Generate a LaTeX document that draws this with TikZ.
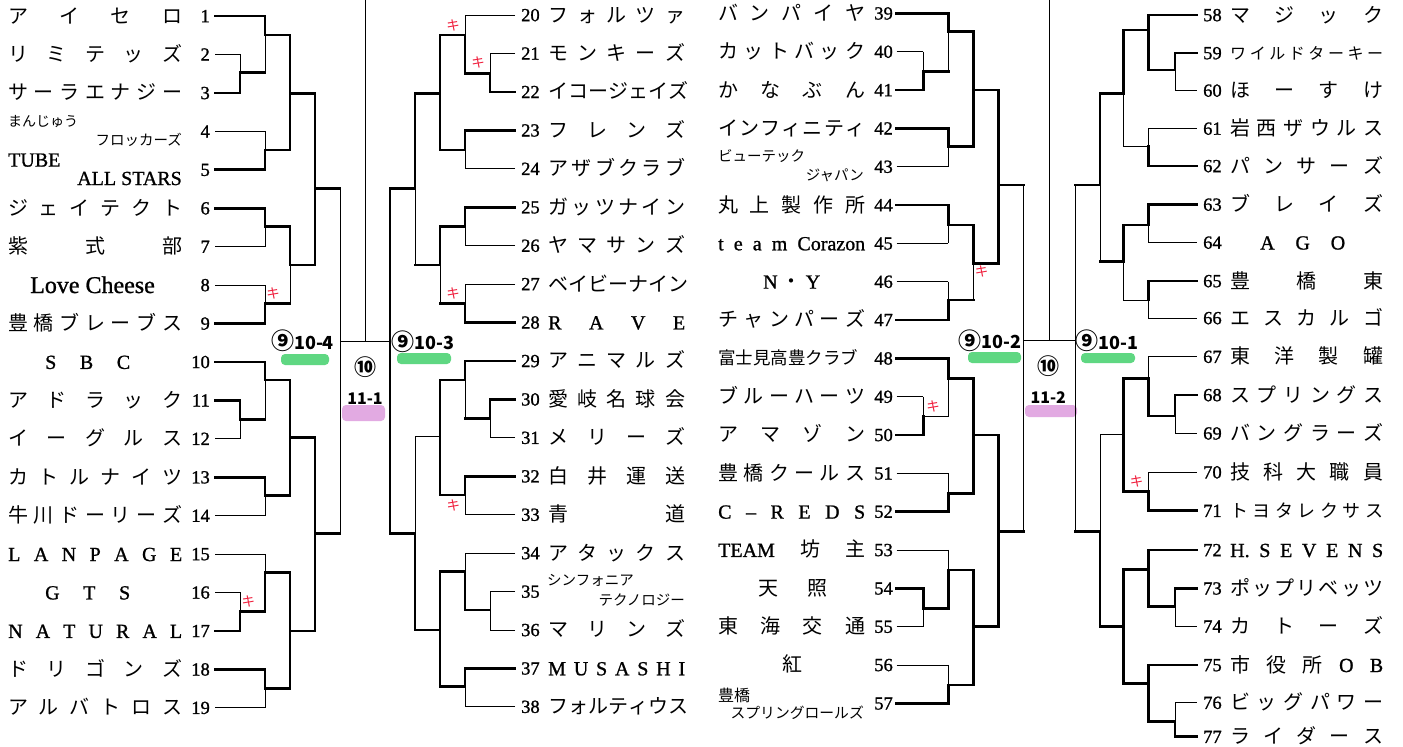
\documentclass[tikz,border=0pt]{standalone}
\usepackage{fontspec}
\setmainfont{Noto Sans CJK JP}
\newfontfamily\lat[FakeBold=1]{Liberation Serif}
\newfontfamily\latn[FakeBold=1.2]{Liberation Serif}
\newfontfamily\jpf{Noto Sans CJK JP}
\definecolor{grn}{RGB}{95,215,130}
\definecolor{pnk}{RGB}{226,170,226}
\definecolor{kired}{RGB}{240,30,60}
\def\sprdA#1{#1\sprdB}
\def\sprdB#1{\ifx\relax#1\else\hfill#1\expandafter\sprdB\fi}
\newcommand\SP[2]{\makebox[#1pt][s]{\sprdA#2\relax}}
\newcommand\armx[4]{\draw[#4] (#1,#3) -- (#2,#3);}
\newcommand\vbar[6]{\draw[#5] (#1,#2) -- (#1,#3); \draw[#6] (#1,#3) -- (#1,#4);}
\newcommand\NN[6]{\node[#1,anchor=base west] (nm#2) at (#3,{#4+7}) {\SP{#5}{#6}};}
\newcommand\cnine{\raisebox{-0.5pt}{\fontsize{23}{23}\selectfont ⑨}}
\begin{document}
\begin{tikzpicture}[x=1pt,y=-1pt,
 tk/.style={line width=2.8pt,line cap=rect},
 tn/.style={line width=0.8pt},
 tm/.style={line width=1.4pt},
 nj/.style={inner sep=0pt,font=\fontsize{20}{20}\selectfont},
 nj16/.style={inner sep=0pt,font=\fontsize{16}{16}\selectfont},
 nj18/.style={inner sep=0pt,font=\fontsize{18}{18}\selectfont},
 nl/.style={inner sep=0pt,font=\lat\fontsize{20}{20}\selectfont},
 sm/.style={inner sep=0pt,font=\fontsize{14.5}{14.5}\selectfont},
 num/.style={inner sep=0pt,font=\latn\fontsize{18.5}{18.5}\selectfont},
 lab/.style={inner sep=0pt,font=\bfseries\fontsize{18}{18}\selectfont},
 lab2/.style={inner sep=0pt,font=\bfseries\fontsize{16}{16}\selectfont},
 ki/.style={inner sep=0pt,text=kired,font=\fontsize{13.5}{13.5}\selectfont}]
\useasboundingbox (0,0) rectangle (1403,747);
\fill[white] (0,0) rectangle (1403,747);
% highlight bars
\fill[grn,rounded corners=4pt] (281,354) rectangle (329,365);
\fill[grn,rounded corners=4pt] (397,353) rectangle (451,364);
\fill[grn,rounded corners=4pt] (968,352) rectangle (1021,363);
\fill[grn,rounded corners=4pt] (1081,353) rectangle (1135,363);
\fill[pnk,rounded corners=4pt] (342,405) rectangle (385,421);
\fill[pnk,rounded corners=4pt] (1025,405) rectangle (1077,417);
% ===== left block 1-19
\armx{215}{240}{54.4}{tn} \armx{215}{240}{92.9}{tk} \vbar{240}{54.4}{72.7}{92.9}{tn}{tk}
\armx{215}{265}{16}{tk} \armx{240}{265}{72.7}{tk} \vbar{265}{16}{35}{72.7}{tk}{tn}
\armx{215}{265}{131.3}{tn} \armx{215}{265}{169.7}{tk} \vbar{265}{131.3}{150}{169.7}{tn}{tk}
\armx{265}{290}{35}{tk} \armx{265}{290}{150}{tk} \vbar{290}{35}{93.3}{150}{tk}{tk}
\armx{215}{265}{208.2}{tk} \armx{215}{265}{246.6}{tn} \vbar{265}{208.2}{226.7}{246.6}{tk}{tn}
\armx{215}{265}{285}{tn} \armx{215}{265}{323.4}{tk} \vbar{265}{285}{303.7}{323.4}{tn}{tk}
\armx{265}{290}{226.7}{tk} \armx{265}{290}{303.7}{tk} \vbar{290}{226.7}{265}{303.7}{tk}{tn}
\armx{290}{315}{93.3}{tk} \armx{290}{315}{265}{tk} \vbar{315}{93.3}{188.3}{265}{tk}{tk}
\armx{315}{340}{188.3}{tk}
\armx{215}{240}{400.3}{tk} \armx{215}{240}{438.7}{tn} \vbar{240}{400.3}{419.3}{438.7}{tk}{tn}
\armx{215}{265}{361.9}{tk} \armx{240}{265}{419.3}{tk} \vbar{265}{361.9}{380}{419.3}{tk}{tn}
\armx{215}{265}{477.2}{tk} \armx{215}{265}{515.6}{tn} \vbar{265}{477.2}{495.7}{515.6}{tk}{tn}
\armx{265}{290}{380}{tk} \armx{265}{290}{495.7}{tk} \vbar{290}{380}{437.7}{495.7}{tk}{tk}
\armx{215}{240}{592.4}{tn} \armx{215}{240}{630.9}{tk} \vbar{240}{592.4}{611.7}{630.9}{tn}{tk}
\armx{215}{265}{554}{tn} \armx{240}{265}{611.7}{tk} \vbar{265}{554}{572.7}{611.7}{tn}{tk}
\armx{215}{265}{669.3}{tk} \armx{215}{265}{707.7}{tn} \vbar{265}{669.3}{688.3}{707.7}{tk}{tn}
\armx{265}{290}{572.7}{tk} \armx{265}{290}{688.3}{tk} \vbar{290}{572.7}{631}{688.3}{tk}{tk}
\armx{290}{315}{437.7}{tk} \armx{290}{315}{631}{tk} \vbar{315}{437.7}{533.3}{631}{tk}{tk}
\armx{315}{340}{533.3}{tk}
\vbar{340}{188.3}{341.7}{533.3}{tn}{tn}
\armx{340}{390}{341.7}{tn}
\draw[tn] (365,0) -- (365,341.7);
% ===== middle-left block 20-38
\armx{515}{490}{53.4}{tn} \armx{515}{490}{91.9}{tk} \vbar{490}{53.4}{73.3}{91.9}{tn}{tk}
\armx{515}{465}{15}{tn} \armx{490}{465}{73.3}{tk} \vbar{465}{15}{35}{73.3}{tn}{tk}
\armx{515}{465}{130.3}{tk} \armx{515}{465}{168.7}{tn} \vbar{465}{130.3}{150}{168.7}{tk}{tn}
\armx{465}{440}{35}{tk} \armx{465}{440}{150}{tk} \vbar{440}{35}{93.3}{150}{tk}{tk}
\armx{515}{465}{207.2}{tk} \armx{515}{465}{245.6}{tn} \vbar{465}{207.2}{226.7}{245.6}{tk}{tn}
\armx{515}{465}{284}{tn} \armx{515}{465}{322.4}{tk} \vbar{465}{284}{303.3}{322.4}{tn}{tk}
\armx{465}{440}{226.7}{tk} \armx{465}{440}{303.3}{tk} \vbar{440}{226.7}{265}{303.3}{tk}{tn}
\armx{440}{415}{93.3}{tk} \armx{440}{415}{265}{tk} \vbar{415}{93.3}{188.3}{265}{tk}{tn}
\armx{415}{390}{188.3}{tk}
\armx{515}{490}{399.3}{tk} \armx{515}{490}{437.7}{tn} \vbar{490}{399.3}{418.3}{437.7}{tk}{tn}
\armx{515}{465}{360.9}{tk} \armx{490}{465}{418.3}{tk} \vbar{465}{360.9}{380}{418.3}{tk}{tn}
\armx{515}{465}{476.2}{tk} \armx{515}{465}{514.6}{tn} \vbar{465}{476.2}{495}{514.6}{tk}{tn}
\armx{465}{440}{380}{tk} \armx{465}{440}{495}{tk} \vbar{440}{380}{436.7}{495}{tk}{tk}
\armx{515}{490}{591.5}{tn} \armx{515}{490}{629.9}{tn} \vbar{490}{591.5}{610}{629.9}{tn}{tn}
\armx{515}{465}{553}{tn} \armx{490}{465}{610}{tk} \vbar{465}{553}{571.7}{610}{tn}{tk}
\armx{515}{465}{668.3}{tk} \armx{515}{465}{706.7}{tn} \vbar{465}{668.3}{686.7}{706.7}{tk}{tn}
\armx{465}{440}{571.7}{tk} \armx{465}{440}{686.7}{tk} \vbar{440}{571.7}{630}{686.7}{tk}{tk}
\armx{440}{415}{436.7}{tn} \armx{440}{415}{630}{tk} \vbar{415}{436.7}{533.3}{630}{tn}{tk}
\armx{415}{390}{533.3}{tk}
\vbar{390}{188.3}{341.7}{533.3}{tm}{tm}
% ===== middle-right block 39-57
\armx{896.7}{923.3}{51.6}{tn} \armx{896.7}{923.3}{90}{tk} \vbar{923.3}{51.6}{71.7}{90}{tn}{tk}
\armx{896.7}{948.3}{13.3}{tk} \armx{923.3}{948.3}{71.7}{tk} \vbar{948.3}{13.3}{31.7}{71.7}{tk}{tn}
\armx{896.7}{948.3}{128.3}{tk} \armx{896.7}{948.3}{166.6}{tn} \vbar{948.3}{128.3}{146.7}{166.6}{tk}{tn}
\armx{948.3}{973.3}{31.7}{tk} \armx{948.3}{973.3}{146.7}{tk} \vbar{973.3}{31.7}{90}{146.7}{tk}{tk}
\armx{896.7}{948.3}{205}{tk} \armx{896.7}{948.3}{243.3}{tn} \vbar{948.3}{205}{225}{243.3}{tk}{tn}
\armx{896.7}{948.3}{281.6}{tn} \armx{896.7}{948.3}{319.9}{tk} \vbar{948.3}{281.6}{300}{319.9}{tn}{tk}
\armx{948.3}{973.3}{225}{tk} \armx{948.3}{973.3}{300}{tk} \vbar{973.3}{225}{263.3}{300}{tk}{tn}
\armx{973.3}{998.3}{90}{tk} \armx{973.3}{998.3}{263.3}{tk} \vbar{998.3}{90}{185}{263.3}{tk}{tk}
\armx{998.3}{1023.3}{185}{tk}
\armx{896.7}{923.3}{396.6}{tn} \armx{896.7}{923.3}{434.9}{tk} \vbar{923.3}{396.6}{416.7}{434.9}{tn}{tk}
\armx{896.7}{948.3}{358.3}{tk} \armx{923.3}{948.3}{416.7}{tn} \vbar{948.3}{358.3}{378.3}{416.7}{tk}{tn}
\armx{896.7}{948.3}{473.3}{tn} \armx{896.7}{948.3}{511.6}{tk} \vbar{948.3}{473.3}{493.3}{511.6}{tn}{tk}
\armx{948.3}{973.3}{378.3}{tk} \armx{948.3}{973.3}{493.3}{tk} \vbar{973.3}{378.3}{435}{493.3}{tk}{tk}
\armx{896.7}{923.3}{588.3}{tk} \armx{896.7}{923.3}{626.6}{tn} \vbar{923.3}{588.3}{608.3}{626.6}{tk}{tn}
\armx{896.7}{948.3}{549.9}{tn} \armx{923.3}{948.3}{608.3}{tk} \vbar{948.3}{549.9}{570}{608.3}{tn}{tk}
\armx{896.7}{948.3}{664.9}{tn} \armx{896.7}{948.3}{703.3}{tk} \vbar{948.3}{664.9}{685}{703.3}{tn}{tk}
\armx{948.3}{973.3}{570}{tk} \armx{948.3}{973.3}{685}{tk} \vbar{973.3}{570}{626.7}{685}{tk}{tk}
\armx{973.3}{998.3}{435}{tk} \armx{973.3}{998.3}{626.7}{tk} \vbar{998.3}{435}{531.7}{626.7}{tk}{tk}
\armx{998.3}{1023.3}{531.7}{tk}
\vbar{1023.3}{185}{340}{531.7}{tn}{tn}
\armx{1023.3}{1075}{340}{tn}
\draw[tn] (1049,0) -- (1049,340);
% ===== right block 58-77
\armx{1196.7}{1175}{53}{tk} \armx{1196.7}{1175}{90.5}{tn} \vbar{1175}{53}{70}{90.5}{tk}{tn}
\armx{1196.7}{1148.3}{15}{tk} \armx{1175}{1148.3}{70}{tk} \vbar{1148.3}{15}{30}{70}{tk}{tk}
\armx{1196.7}{1148.3}{128.5}{tn} \armx{1196.7}{1148.3}{166}{tk} \vbar{1148.3}{128.5}{146.7}{166}{tn}{tk}
\armx{1148.3}{1123.3}{30}{tk} \armx{1148.3}{1123.3}{146.7}{tn} \vbar{1123.3}{30}{93.3}{146.7}{tk}{tn}
\armx{1196.7}{1148.3}{204.5}{tk} \armx{1196.7}{1148.3}{242.5}{tn} \vbar{1148.3}{204.5}{225}{242.5}{tk}{tn}
\armx{1196.7}{1148.3}{281}{tk} \armx{1196.7}{1148.3}{318}{tn} \vbar{1148.3}{281}{300}{318}{tk}{tn}
\armx{1148.3}{1123.3}{225}{tk} \armx{1148.3}{1123.3}{300}{tn} \vbar{1123.3}{225}{261.7}{300}{tk}{tn}
\armx{1123.3}{1100}{93.3}{tk} \armx{1123.3}{1100}{261.7}{tk} \vbar{1100}{93.3}{185}{261.7}{tk}{tn}
\armx{1100}{1075}{185}{tk}
\armx{1196.7}{1175}{395}{tk} \armx{1196.7}{1175}{433.3}{tn} \vbar{1175}{395}{416}{433.3}{tk}{tn}
\armx{1196.7}{1148.3}{356.7}{tn} \armx{1175}{1148.3}{416}{tk} \vbar{1148.3}{356.7}{378.3}{416}{tn}{tk}
\armx{1196.7}{1148.3}{472.2}{tn} \armx{1196.7}{1148.3}{510.7}{tk} \vbar{1148.3}{472.2}{491.7}{510.7}{tn}{tk}
\armx{1148.3}{1123.3}{378.3}{tk} \armx{1148.3}{1123.3}{491.7}{tk} \vbar{1123.3}{378.3}{434.3}{491.7}{tk}{tk}
\armx{1196.7}{1175}{588.3}{tk} \armx{1196.7}{1175}{626.3}{tn} \vbar{1175}{588.3}{606.7}{626.3}{tk}{tn}
\armx{1196.7}{1148.3}{550}{tk} \armx{1175}{1148.3}{606.7}{tk} \vbar{1148.3}{550}{569.3}{606.7}{tk}{tk}
\armx{1196.7}{1175}{702.7}{tn} \armx{1196.7}{1175}{736.7}{tk} \vbar{1175}{702.7}{721.7}{736.7}{tn}{tk}
\armx{1196.7}{1148.3}{665}{tk} \armx{1175}{1148.3}{721.7}{tk} \vbar{1148.3}{665}{683.3}{721.7}{tk}{tk}
\armx{1148.3}{1123.3}{569.3}{tk} \armx{1148.3}{1123.3}{683.3}{tk} \vbar{1123.3}{569.3}{626.7}{683.3}{tk}{tk}
\armx{1123.3}{1100}{434.3}{tn} \armx{1123.3}{1100}{626.7}{tk} \vbar{1100}{434.3}{531.7}{626.7}{tn}{tk}
\armx{1100}{1075}{531.7}{tk}
\vbar{1075}{185}{340}{531.7}{tn}{tn}
% ===== round labels
\node[lab] (l104) at (302.5,341) {\cnine 10-4};
\node[lab] (l103) at (423,341.5) {\cnine 10-3};
\node[lab] (l102) at (990,340.5) {\cnine 10-2};
\node[lab] (l101) at (1106.7,341) {\cnine 10-1};
\node[lab2,font=\bfseries\fontsize{22}{22}\selectfont] (c10a) at (365,366.7) {⑩};
\node[lab2] (f111) at (365,398.3) {11-1};
\node[lab2,font=\bfseries\fontsize{22}{22}\selectfont] (c10b) at (1048.3,366) {⑩};
\node[lab2] (f112) at (1048.3,397.3) {11-2};
% ===== kiken marks
\node[ki] (k1) at (273,293) {キ};
\node[ki] (k2) at (248.3,601.7) {キ};
\node[ki] (k3) at (453,25) {キ};
\node[ki] (k4) at (478,62) {キ};
\node[ki] (k5) at (453,293) {キ};
\node[ki] (k6) at (453.3,505) {キ};
\node[ki] (k7) at (981.7,271.7) {キ};
\node[ki] (k8) at (933,406.7) {キ};
\node[ki] (k9) at (1136.7,481.7) {キ};
% ===== numbers
\foreach \i/\y in {1/16,2/54.4,3/92.9,4/131.3,5/169.7,6/208.2,7/246.6,8/285,9/323.4,10/361.9,11/400.3,12/438.7,13/477.2,14/515.6,15/554,16/592.4,17/630.9,18/669.3,19/707.7}
  \node[num,anchor=base east] (n\i) at (210,{\y+6.2}) {\i};
\foreach \i/\y in {20/15,21/53.4,22/91.9,23/130.3,24/168.7,25/207.2,26/245.6,27/284,28/322.4,29/360.9,30/399.3,31/437.7,32/476.2,33/514.6,34/553,35/591.5,36/629.9,37/668.3,38/706.7}
  \node[num,anchor=base west] (n\i) at (521,{\y+6.2}) {\i};
\foreach \i/\y in {39/13.3,40/51.6,41/90,42/128.3,43/166.6,44/205,45/243.3,46/281.6,47/319.9,48/358.3,49/396.6,50/434.9,51/473.3,52/511.6,53/549.9,54/588.3,55/626.6,56/664.9,57/703.3}
  \node[num,anchor=base east] (n\i) at (893,{\y+6.2}) {\i};
\foreach \i/\y in {58/15,59/53,60/90.5,61/128.5,62/166,63/204.5,64/242.5,65/281,66/318,67/356.7,68/395,69/433.3,70/472.2,71/510.7,72/550,73/588.3,74/626.3,75/665,76/702.7,77/736.7}
  \node[num,anchor=base west] (n\i) at (1203,{\y+6.2}) {\i};
% ===== names, left block
\NN{nj}{1}{8}{16}{174}{アイセロ}
\NN{nj}{2}{8}{54.4}{174}{リミテッズ}
\NN{nj}{3}{8}{92.9}{174}{サーラエナジー}
\node[inner sep=0pt,font=\fontsize{14}{14}\selectfont,anchor=base west] (nm4a) at (8,126.7) {まんじゅう};
\node[inner sep=0pt,font=\fontsize{14.5}{14.5}\selectfont,anchor=base east] (nm4b) at (182,145.5) {フロッカーズ};
\node[nl,anchor=base west] (nm5a) at (8,166.6) {TUBE};
\node[nl,anchor=base east] (nm5b) at (182,185) {ALL STARS};
\NN{nj}{6}{8}{208.2}{174}{ジェイテクト}
\NN{nj}{7}{8}{246.6}{174}{紫式部}
\node[inner sep=0pt,font=\lat\fontsize{24}{24}\selectfont,anchor=base west] (nm8) at (30,293) {Love Cheese};
\NN{nj}{9}{8}{323.4}{174}{豊橋ブレーブス}
\NN{nl}{10}{45}{361.9}{85}{SBC}
\NN{nj}{11}{8}{400.3}{174}{アドラック}
\NN{nj}{12}{8}{438.7}{174}{イーグルス}
\NN{nj}{13}{8}{477.2}{174}{カトルナイツ}
\NN{nj}{14}{8}{515.6}{174}{牛川ドーリーズ}
\NN{nl}{15}{8}{554}{174}{LANPAGE}
\NN{nl}{16}{45}{592.4}{85}{GTS}
\NN{nl}{17}{8}{630.9}{174}{NATURAL}
\NN{nj}{18}{8}{669.3}{174}{ドリゴンズ}
\NN{nj}{19}{8}{707.7}{174}{アルバトロス}
% ===== names, middle-left block
\NN{nj}{20}{548}{15}{137}{フォルツァ}
\NN{nj}{21}{548}{53.4}{137}{モンキーズ}
\NN{nj}{22}{548}{91.9}{137}{イコージェイズ}
\NN{nj}{23}{548}{130.3}{137}{フレンズ}
\NN{nj}{24}{548}{168.7}{137}{アザブクラブ}
\NN{nj}{25}{548}{207.2}{137}{ガッツナイン}
\NN{nj}{26}{548}{245.6}{137}{ヤマサンズ}
\NN{nj}{27}{548}{284}{137}{ベイビーナイン}
\NN{nl}{28}{548}{322.4}{137}{RAVE}
\NN{nj}{29}{548}{360.9}{137}{アニマルズ}
\NN{nj}{30}{548}{399.3}{137}{愛岐名球会}
\NN{nj}{31}{548}{437.7}{137}{メリーズ}
\NN{nj}{32}{548}{476.2}{137}{白井運送}
\NN{nj}{33}{548}{514.6}{137}{青道}
\NN{nj}{34}{548}{553}{137}{アタックス}
\node[sm,anchor=base west] (nm35a) at (547,585) {シンフォニア};
\node[sm,anchor=base east] (nm35b) at (685,605) {テクノロジー};
\NN{nj}{36}{548}{629.9}{137}{マリンズ}
\NN{nl}{37}{548}{668.3}{137}{MUSASHI}
\NN{nj}{38}{548}{706.7}{137}{フォルティウス}
% ===== names, middle-right block
\NN{nj}{39}{718}{13.3}{147}{バンパイヤ}
\NN{nj}{40}{718}{51.6}{147}{カットバック}
\NN{nj}{41}{718}{90}{147}{かなぶん}
\NN{nj}{42}{718}{128.3}{147}{インフィニティ}
\node[sm,anchor=base west] (nm43a) at (718,161.7) {ビューテック};
\node[sm,anchor=base east] (nm43b) at (864,180) {ジャパン};
\NN{nj}{44}{718}{205}{147}{丸上製作所}
\node[nl,anchor=base west] (nm45) at (718,250.3) {\makebox[147pt][s]{t\hfill e\hfill a\hfill m\hfill Corazon}};
\node[nl,anchor=base west] (nm46) at (763,288.6) {\makebox[57pt][s]{N\hfill{\jpf ・}\hfill Y}};
\NN{nj}{47}{718}{319.9}{147}{チャンパーズ}
\node[inner sep=0pt,font=\fontsize{17.5}{17.5}\selectfont,anchor=base west] (nm48) at (718,364.6) {富士見高豊クラブ};
\NN{nj}{49}{718}{396.6}{147}{ブルーハーツ}
\NN{nj}{50}{718}{434.9}{147}{アマゾン}
\NN{nj}{51}{718}{473.3}{147}{豊橋クールス}
\NN{nl}{52}{718}{511.6}{147}{C–REDS}
\node[nj,anchor=base west] (nm53) at (718,556.9) {\makebox[147pt][s]{{\lat TEAM}\hfill 坊\hfill 主}};
\NN{nj}{54}{758}{588.3}{69}{天照}
\NN{nj}{55}{718}{626.6}{147}{東海交通}
\node[nj,anchor=base west] (nm56) at (782,671.9) {紅};
\node[inner sep=0pt,font=\fontsize{16}{16}\selectfont,anchor=base west] (nm57a) at (718,701.8) {豊橋};
\node[inner sep=0pt,font=\fontsize{14.8}{14.8}\selectfont,anchor=base east] (nm57b) at (864,718) {スプリングロールズ};
% ===== names, right block
\NN{nj}{58}{1230}{15}{153}{マジック}
\NN{nj16}{59}{1230}{52}{153}{ワイルドターキー}
\NN{nj}{60}{1230}{90.5}{153}{ほーすけ}
\NN{nj}{61}{1230}{128.5}{153}{岩西ザウルス}
\NN{nj}{62}{1230}{166}{153}{パンサーズ}
\NN{nj}{63}{1230}{204.5}{153}{ブレイズ}
\NN{nl}{64}{1260}{242.5}{85}{AGO}
\NN{nj}{65}{1230}{281}{153}{豊橋東}
\NN{nj}{66}{1230}{318}{153}{エスカルゴ}
\NN{nj}{67}{1230}{356.7}{153}{東洋製罐}
\NN{nj}{68}{1230}{395}{153}{スプリングス}
\NN{nj}{69}{1230}{433.3}{153}{バングラーズ}
\NN{nj}{70}{1230}{472.2}{153}{技科大職員}
\NN{nj18}{71}{1230}{510}{153}{トヨタレクサス}
\NN{nl}{72}{1230}{550}{153}{{H.}SEVENS}
\NN{nj}{73}{1230}{588.3}{153}{ポップリベッツ}
\NN{nj}{74}{1230}{626.3}{153}{カトーズ}
\node[nj,anchor=base west] (nm75) at (1230,672) {\makebox[153pt][s]{市\hfill 役\hfill 所\hfill{\lat O}\hfill{\lat B}}};
\NN{nj}{76}{1230}{702.7}{153}{ビッグパワー}
\NN{nj}{77}{1230}{736.7}{153}{ライダース}
\end{tikzpicture}
\end{document}
